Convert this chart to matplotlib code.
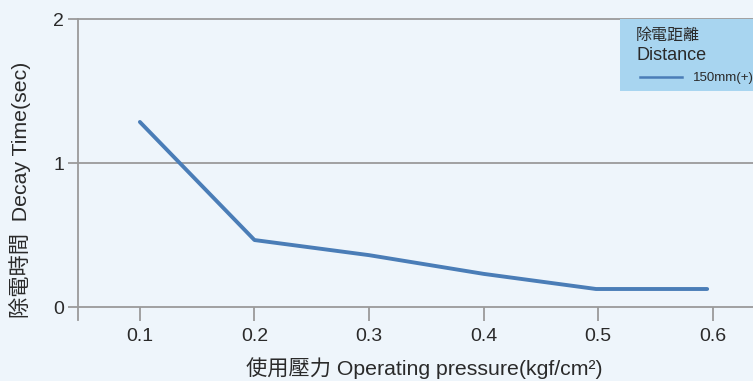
import matplotlib.pyplot as plt
from matplotlib.patches import Rectangle

plt.rcParams['font.family'] = ['Liberation Sans', 'Noto Sans CJK TC', 'DejaVu Sans']

pressure = [0.1, 0.2, 0.3, 0.4, 0.498, 0.595]
decay = [1.285, 0.465, 0.36, 0.23, 0.125, 0.125]
xticks = [0.1, 0.2, 0.3, 0.4, 0.5, 0.6]
yticks = [0, 1, 2]

bg = '#eef5fb'
grid = '#9a9a9a'
txt = '#2a2a2a'
W, H = 753, 381

fig = plt.figure(figsize=(7.53, 3.81), dpi=100, facecolor=bg)
ax = fig.add_axes([78 / W, 1 - 307 / H, 1 - 78 / W, 288 / H], facecolor=bg)

for y in yticks:
    ax.axhline(y, color=grid, lw=1.3, zorder=1, clip_on=False)

ax.plot(pressure, decay, color='#4a7db7', lw=2.8, zorder=3, solid_capstyle='round')

ax.set_xlim(0.046, 0.635)
ax.set_ylim(0, 2)
for s in ['top', 'right', 'bottom']:
    ax.spines[s].set_visible(False)
ax.spines['left'].set_color(grid)
ax.spines['left'].set_linewidth(1.3)
ax.spines['left'].set_bounds(-0.09, 2)

ax.set_xticks(xticks)
ax.set_xticklabels([f'{v:.1f}' for v in xticks])
ax.set_yticks(yticks)
ax.tick_params(axis='x', length=10, width=1.3, color=grid, labelsize=14,
               labelcolor=txt, pad=5)
ax.tick_params(axis='y', length=7, width=1.3, color=grid, labelsize=14,
               labelcolor=txt, pad=3)

# axis titles
fig.text(424 / W, 1 - 368 / H, '使用壓力 Operating pressure(kgf/cm²)', fontsize=15.3,
         color=txt, ha='center', va='center')
fig.text(20 / W, 1 - 190 / H, '除電時間  Decay Time(sec)', fontsize=15.3,
         color=txt, ha='center', va='center', rotation=90)

# legend box
fig.patches.append(Rectangle((620 / W, 1 - 91 / H), 140 / W, 72 / H,
                             transform=fig.transFigure, facecolor='#a8d5f0',
                             edgecolor='none', zorder=5))
fig.text(636 / W, 1 - 35 / H, '除電距離', fontsize=11.5, color=txt, va='center', zorder=6)
fig.text(636 / W, 1 - 56 / H, 'Distance', fontsize=13, color=txt, va='center', zorder=6)
fig.add_artist(plt.Line2D([640 / W, 682 / W], [1 - 77 / H, 1 - 77 / H],
                          transform=fig.transFigure, color='#4a7db7', lw=1.8, zorder=6))
fig.text(693 / W, 1 - 78 / H, '150mm(+)', fontsize=9.5, color=txt, va='center', zorder=6)

fig.savefig('out.png', dpi=100, facecolor=bg)
